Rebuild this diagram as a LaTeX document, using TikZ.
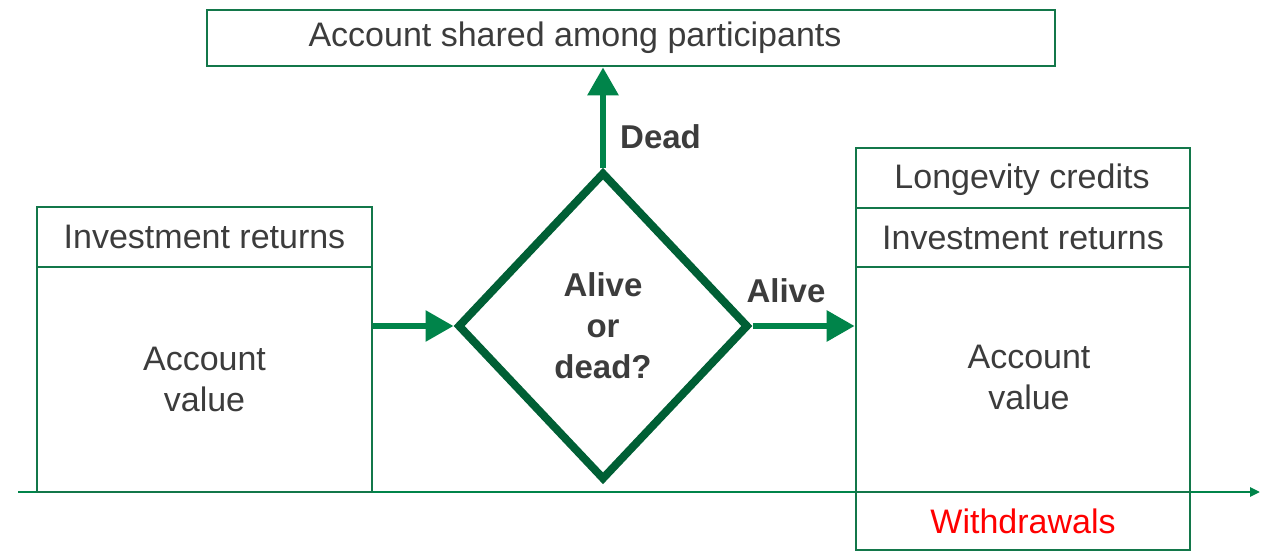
\documentclass[tikz,border=0pt]{standalone}
\usepackage{fontspec}
\setmainfont{Liberation Sans}
\usetikzlibrary{arrows.meta,shapes.geometric}
\definecolor{boxgreen}{HTML}{13774A}
\definecolor{arrgreen}{HTML}{00844A}
\definecolor{diagreen}{HTML}{005F35}
\definecolor{txtgray}{HTML}{3C3C3C}
\definecolor{wred}{HTML}{FF0000}
\tikzset{
  box/.style={draw=boxgreen, line width=2.8pt, rectangle, inner sep=0pt, text=txtgray,
     font=\fontsize{34}{41}\selectfont, align=center},
  lbl/.style={text=txtgray, font=\bfseries\fontsize{33}{41}\selectfont, inner sep=0pt},
  arr/.style={draw=arrgreen, line width=6pt, -{Triangle[length=28pt,width=30pt]}},
  axis/.style={draw=arrgreen, line width=2.6pt, -{Triangle[length=10pt,width=9pt]}},
}
\begin{document}
\begin{tikzpicture}[x=1pt,y=-1pt]
\useasboundingbox (0,0) rectangle (1266,553);
% baseline
\coordinate (b0) at (18,492);
\coordinate (b1) at (1260,492);
\draw[axis] (b0) -- (b1);
% top box
\node[box, minimum width=848pt, minimum height=56pt] (top) at (631,38) {};
\node[text=txtgray, font=\fontsize{34}{41}\selectfont, inner sep=0pt] (toptxt) at (575,38) {Account shared among participants};
% left boxes
\node[box, minimum width=335pt, minimum height=60pt] (lret) at (204.5,237) {Investment returns};
\node[box, minimum width=335pt, minimum height=225pt] (lval) at (204.5,379.5) {Account\\value};
% right boxes
\node[box, minimum width=334pt, minimum height=60pt] (rlong) at (1023,178) {};
\node[text=txtgray, font=\fontsize{34}{41}\selectfont, inner sep=0pt] (rlongtxt) at (1022,180) {Longevity credits};
\node[box, minimum width=334pt, minimum height=59pt] (rret) at (1023,237.5) {Investment returns};
\node[box, minimum width=334pt, minimum height=225pt] (rval) at (1023,379.5) {};
\node[text=txtgray, font=\fontsize{34}{41}\selectfont, align=center, inner sep=0pt] (rvaltxt) at (1029,377) {Account\\value};
\node[box, minimum width=334pt, minimum height=58pt, text=wred] (wd) at (1023,521) {Withdrawals};
% diamond
\node[diamond, draw=diagreen, line width=8pt, minimum width=291pt, minimum height=308pt, inner sep=0pt,
      text=txtgray, font=\bfseries\fontsize{33}{41}\selectfont, align=center] (dia) at (603,326) {Alive\\or\\dead?};
% arrows
\draw[arr] (lval.east |- dia.west) -- (dia.west);
\draw[arr] (dia.east) -- (rval.west |- dia.east);
\draw[arr] (dia.north) -- (dia.north |- top.south);
\node[lbl, anchor=west] (dead) at (620,137) {Dead};
\node[lbl] (alive) at (786,291) {Alive};
\end{tikzpicture}
\end{document}
